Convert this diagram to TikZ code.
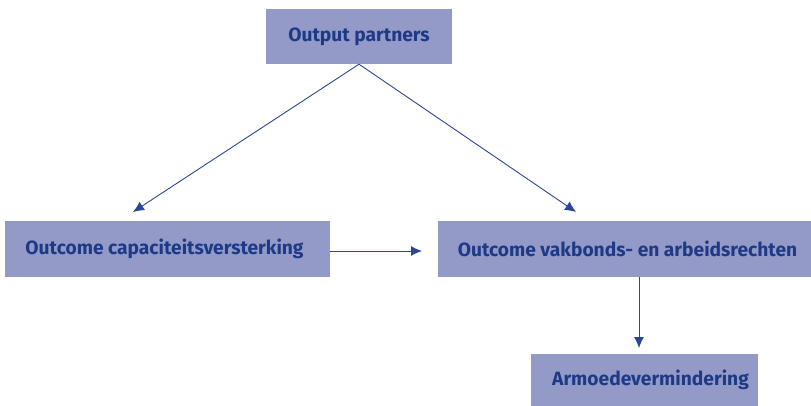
\documentclass[tikz,border=0pt]{standalone}
\usepackage{fontspec}
\setmainfont{Fira Sans}
\usetikzlibrary{arrows.meta}
\definecolor{boxfill}{HTML}{939AC7}
\definecolor{txtblue}{HTML}{1E3A87}
\definecolor{lineblue}{HTML}{2A4796}
\tikzset{
  box/.style={fill=boxfill, draw=none, inner sep=0pt, text=txtblue, font=\fontsize{19.2}{22}\selectfont\bfseries},
  conn/.style={draw=lineblue, line width=0.9pt, -{Latex[length=11pt,width=10pt]}}
}
\begin{document}
\begin{tikzpicture}[x=1pt,y=-1pt]
\useasboundingbox (0,0) rectangle (811,406);
\node[box, minimum width=186pt, minimum height=55pt] (op) at (359,36.5) {Output partners};
\node[box, minimum width=325pt, minimum height=56pt] (oc) at (167.5,249) {Outcome capaciteitsversterking\hspace*{6pt}};
\node[box, minimum width=373pt, minimum height=56pt] (ov) at (624.5,249) {\hspace*{6pt}Outcome vakbonds- en arbeidsrechten};
\node[box, minimum width=227pt, minimum height=52pt] (ar) at (644.5,380) {\hspace*{12pt}Armoedevermindering};
\coordinate (a1) at (133,212);
\coordinate (a2) at (576,212);
\coordinate (h1) at (422,251);
\coordinate (v1) at (639,348);
\draw[conn] (op.south) -- (a1);
\draw[conn] (op.south) -- (a2);
\draw[conn] (oc.east |- h1) -- (h1);
\draw[conn] (ov.south -| v1) -- (v1);
\end{tikzpicture}
\end{document}
